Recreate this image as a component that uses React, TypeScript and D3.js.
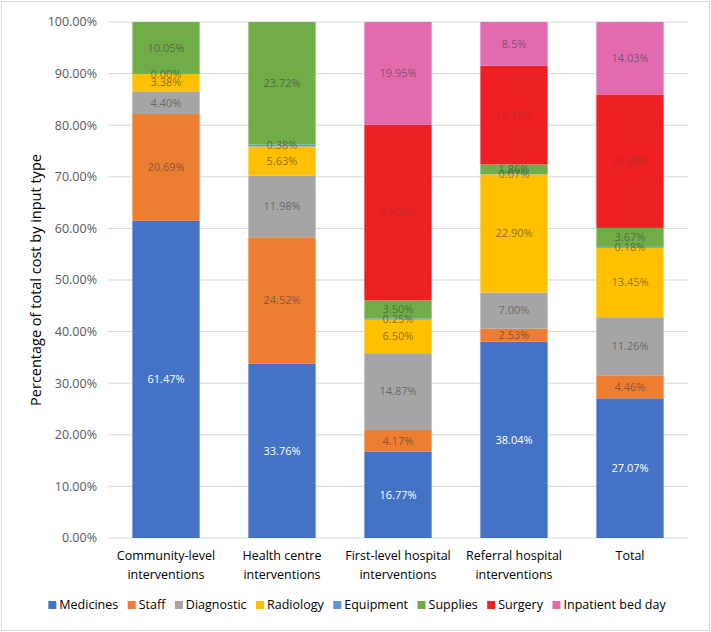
import React, { useEffect, useRef } from "react";
import * as d3 from "d3";

const categories = [
  ["Community-level", "interventions"],
  ["Health centre", "interventions"],
  ["First-level hospital", "interventions"],
  ["Referral hospital", "interventions"],
  ["Total"],
];
const seriesNames = ["Medicines", "Staff", "Diagnostic", "Radiology", "Equipment", "Supplies", "Surgery", "Inpatient bed day"];
const seriesColors = ["#4472c4", "#ed7d31", "#a5a5a5", "#ffc000", "#5b9bd5", "#70ad47", "#ee2024", "#e26bb0"];

const medicines = [61.47, 33.76, 16.77, 38.04, 27.07];
const staff = [20.69, 24.52, 4.17, 2.53, 4.46];
const diagnostic = [4.40, 11.98, 14.87, 7.00, 11.26];
const radiology = [3.38, 5.63, 6.50, 22.90, 13.45];
const equipment = [0.00, 0.38, 0.25, 0.07, 0.18];
const supplies = [10.05, 23.72, 3.50, 1.86, 3.67];
const surgery: (number | null)[] = [null, null, 34.00, 19.10, 25.88];
const inpatient: (number | null)[] = [null, null, 19.95, 8.5, 14.03];
const labelText = [
  ["61.47%", "33.76%", "16.77%", "38.04%", "27.07%"],
  ["20.69%", "24.52%", "4.17%", "2.53%", "4.46%"],
  ["4.40%", "11.98%", "14.87%", "7.00%", "11.26%"],
  ["3.38%", "5.63%", "6.50%", "22.90%", "13.45%"],
  ["0.00%", "0.38%", "0.25%", "0.07%", "0.18%"],
  ["10.05%", "23.72%", "3.50%", "1.86%", "3.67%"],
  ["", "", "34.00%", "19.10%", "25.88%"],
  ["", "", "19.95%", "8.5%", "14.03%"],
];
const yTicks = [0, 10, 20, 30, 40, 50, 60, 70, 80, 90, 100];
const yTitle = "Percentage of total cost by input type";

const W = 711, H = 632;
const FONT = "'Open Sans', 'Noto Sans', sans-serif";

export default function App() {
  const ref = useRef<SVGSVGElement>(null);
  useEffect(() => {
    const svg = d3.select(ref.current);
    svg.selectAll("*").remove();
    const series = [medicines, staff, diagnostic, radiology, equipment, supplies, surgery, inpatient];
    const m = { left: 108, right: 688, top: 22, bottom: 538 };
    const x = d3.scaleBand<number>().domain(d3.range(categories.length)).range([m.left, m.right]).paddingInner(0.42).paddingOuter(0.21);
    const y = d3.scaleLinear().domain([0, 100]).range([m.bottom, m.top]);

    svg.append("rect").attr("x", 1.5).attr("y", 1.5).attr("width", W - 3).attr("height", H - 3)
      .attr("fill", "white").attr("stroke", "#d9d9d9");

    const g = svg.append("g");
    yTicks.forEach((t) => {
      g.append("line").attr("x1", m.left).attr("x2", m.right).attr("y1", y(t)).attr("y2", y(t))
        .attr("stroke", "#d9d9d9").attr("stroke-width", 1);
      g.append("text").attr("x", 97).attr("y", y(t)).attr("dy", "0.35em").attr("text-anchor", "end")
        .attr("font-size", 12.5).attr("fill", "#595959").attr("font-family", FONT).text(t.toFixed(2) + "%");
    });

    categories.forEach((_, i) => {
      let acc = 0;
      series.forEach((s, k) => {
        const v = s[i] ?? 0;
        const y0 = acc, y1 = acc + v;
        acc = y1;
        if (v > 0) {
          g.append("rect").attr("x", x(i)!).attr("width", x.bandwidth())
            .attr("y", y(Math.min(y1, 100))).attr("height", y(y0) - y(Math.min(y1, 100)))
            .attr("fill", seriesColors[k]);
        }
      });
    });

    categories.forEach((_, i) => {
      let acc = 0;
      series.forEach((s, k) => {
        const v = s[i];
        if (v === null || v === undefined) return;
        const mid = acc + v / 2;
        acc += v;
        const txt = labelText[k][i];
        if (!txt) return;
        const op = k === 0 ? 1 : k === 6 ? 0.28 : 0.62;
        g.append("text").attr("x", x(i)! + x.bandwidth() / 2).attr("y", y(mid)).attr("dy", "0.35em")
          .attr("text-anchor", "middle").attr("font-size", 11).attr("font-family", FONT)
          .attr("fill", k === 0 ? "#ffffff" : "#404040").attr("fill-opacity", op)
          .text(txt);
      });
    });

    categories.forEach((lines, i) => {
      lines.forEach((l, j) => {
        g.append("text").attr("x", x(i)! + x.bandwidth() / 2).attr("y", 556 + j * 19).attr("dy", "0.35em")
          .attr("text-anchor", "middle").attr("font-size", 12.5).attr("fill", "#000").attr("font-family", FONT).text(l);
      });
    });

    g.append("text").attr("transform", `translate(36,${(m.top + m.bottom) / 2}) rotate(-90)`)
      .attr("text-anchor", "middle").attr("dy", "0.35em").attr("font-size", 14.5).attr("fill", "#000")
      .attr("font-family", FONT).text(yTitle);

    // legend
    const lg = svg.append("g");
    const items: { t: d3.Selection<SVGTextElement, unknown, null, undefined>; w: number; k: number }[] = [];
    seriesNames.forEach((n, k) => {
      const t = lg.append("text").attr("y", 605).attr("dy", "0.35em").attr("font-size", 12.5)
        .attr("fill", "#000").attr("font-family", FONT).text(n);
      const w = (t.node() as SVGTextElement).getComputedTextLength();
      items.push({ t, w, k });
    });
    const sq = 8, gapIn = 3, gapOut = 9.5;
    const total = d3.sum(items, (d) => sq + gapIn + d.w) + gapOut * (items.length - 1);
    let cx = 357 - total / 2;
    items.forEach((d) => {
      lg.append("rect").attr("x", cx).attr("y", 605 - sq / 2).attr("width", sq).attr("height", sq).attr("fill", seriesColors[d.k]);
      d.t.attr("x", cx + sq + gapIn);
      cx += sq + gapIn + d.w + gapOut;
    });
  }, []);
  return (
    <svg ref={ref} width={W} height={H} style={{ position: "absolute", left: 0, top: 0, background: "white" }} />
  );
}
